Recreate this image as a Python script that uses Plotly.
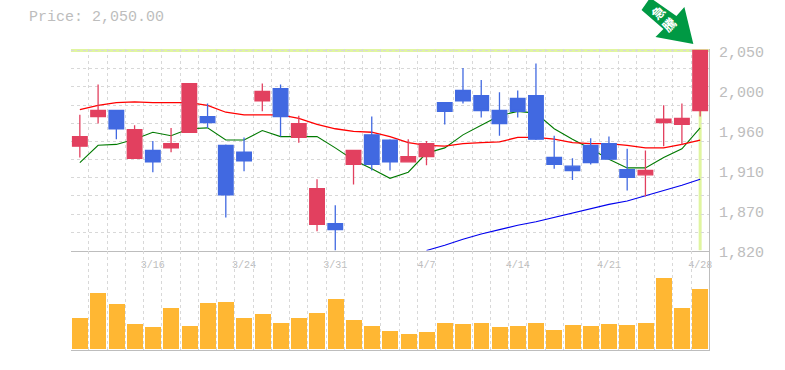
import plotly.graph_objects as go

price_label = "Price: 2,050.00"
x_idx = list(range(35))
x_tick_pos = [4, 9, 14, 19, 24, 29, 34]
x_tick_text = ["3/16", "3/24", "3/31", "4/7", "4/14", "4/21", "4/28"]
y_tick_pos = [1820, 1866, 1912, 1958, 2004, 2050]
y_tick_text = ["1,820", "1,870", "1,910", "1,960", "2,000", "2,050"]

high = [1976,2011,1982,1964,1946,1961,2012,1989,1942,1950,2012,2011,1975,1902,1872,1935,1974,1948,1948,1946,1990,2030,2016,2002,2004,2035,1952,1926,1949,1951,1937,1935,1987,1989,2050]
low = [1927,1966,1948,1926,1910,1933,1956,1961,1858,1911,1980,1951,1944,1842,1820,1896,1912,1912,1922,1918,1965,1989,1973,1952,1973,1947,1914,1901,1919,1925,1889,1882,1940,1942,1974]
open_ = [1940,1974,1981,1926,1935,1938,1956,1974,1941,1933,1992,2006,1950,1850,1851,1919,1953,1947,1922,1928,1990,2004,1998,1981,1995,1998,1927,1917,1941,1943,1913,1907,1967,1965,1981]
close = [1951,1981,1960,1959,1922,1943,2012,1967,1884,1923,2003,1974,1966,1891,1844,1935,1919,1922,1928,1943,1980,1992,1981,1966,1980,1948,1919,1912,1921,1925,1904,1912,1971,1972,2050]
ma_red = [1982,1987,1990,1991,1990,1990,1990,1987,1979,1976,1976,1976,1972,1965,1960,1957,1956,1951,1944,1941,1940,1943,1944,1945,1950,1950,1948,1944,1943,1943,1941,1938,1938,1942,1947]
ma_green = [1921,1941,1942,1948,1956,1952,1960,1961,1947,1947,1958,1951,1951,1951,1938,1924,1914,1903,1910,1932,1938,1953,1964,1975,1980,1978,1960,1948,1937,1925,1915,1915,1927,1937,1961]
ma_blue = [None]*19 + [1820,1826,1833,1839,1844,1849,1853,1858,1863,1868,1873,1877,1883,1889,1895,1902]
volume = [3100,5600,4500,2500,2200,4100,2300,4600,4700,3100,3500,2600,3100,3600,5000,2900,2300,1800,1500,1700,2600,2500,2600,2200,2300,2600,1900,2400,2300,2500,2400,2600,7100,4100,6000]

W, H = 785, 370
L, R, T, M, B = 71, 712, 48.5, 250.5, 350
GREY = "#bdbdbd"
GRID = "#d8d8d8"
DASH = "3px,3px"
FONT = "Liberation Mono"

fig = go.Figure()
for vals, col, w in [(ma_blue, "#0000ee", 1.1), (ma_green, "#007a00", 1.1), (ma_red, "#ff0000", 1.3)]:
    fig.add_trace(go.Scatter(x=x_idx, y=vals, mode="lines", line=dict(color=col, width=w),
                             xaxis="x", yaxis="y", hoverinfo="skip", showlegend=False))
fig.add_trace(go.Candlestick(x=x_idx, open=open_, high=high, low=low, close=close,
                             xaxis="x", yaxis="y3", whiskerwidth=0,
                             increasing=dict(line=dict(color="#e2405f", width=1.3), fillcolor="#e2405f"),
                             decreasing=dict(line=dict(color="#4169e1", width=1.3), fillcolor="#4169e1"),
                             showlegend=False))
fig.add_trace(go.Bar(x=x_idx, y=volume, marker=dict(color="#ffb733", line=dict(width=0)),
                     width=0.876, xaxis="x2", yaxis="y2", showlegend=False))

yr = [1820, 2052.3]
xr = [-0.5, 34.5]
minor_x = dict(tick0=-0.5, dtick=1, showgrid=True, gridcolor=GRID, griddash=DASH, gridwidth=1, ticks="")
fig.update_layout(
    width=W, height=H, margin=dict(l=0, r=0, t=0, b=0), boxgap=0.2, boxgroupgap=0.0,
    paper_bgcolor="white", plot_bgcolor="white", showlegend=False, bargap=0,
    xaxis=dict(domain=[L/W, R/W], range=xr, anchor="y", tickmode="array", tickvals=x_tick_pos,
               ticktext=x_tick_text, tickfont=dict(family=FONT, size=10, color=GREY), ticks="",
               ticklabelstandoff=4, showgrid=False, zeroline=False, minor=minor_x,
               showline=True, linecolor=GREY, linewidth=1, rangeslider=dict(visible=False)),
    xaxis2=dict(domain=[L/W, R/W], range=xr, anchor="y2", showticklabels=False, ticks="",
                tickmode="array", tickvals=[], showgrid=False, zeroline=False, minor=minor_x,
                showline=True, linecolor=GREY, linewidth=1),
    yaxis=dict(domain=[1-M/H, 1-T/H], range=yr, anchor="x", showticklabels=False, ticks="",
               tickmode="array", tickvals=[], zeroline=False, showgrid=False, fixedrange=True,
               minor=dict(tick0=1820, dtick=230/11, showgrid=True, gridcolor=GRID, griddash=DASH, gridwidth=1, ticks=""),
               side="right", showline=True, linecolor=GREY, linewidth=1),
    yaxis3=dict(overlaying="y", range=yr, anchor="x", showticklabels=False, ticks="",
                showgrid=False, zeroline=False, side="right"),
    yaxis2=dict(domain=[1-B/H, 1-M/H], range=[-200, 9800], anchor="x2", showticklabels=False, ticks="",
                showgrid=False, zeroline=False, side="right", showline=True, linecolor=GREY, linewidth=1),
    shapes=[
        dict(type="line", xref="x", yref="y", x0=-0.5, x1=34.5, y0=2050, y1=2050, layer="below",
             line=dict(color="#e0f5a0", width=3)),
        dict(type="line", xref="x", yref="y", x0=34, x1=34, y0=1820, y1=2050, layer="below",
             line=dict(color="#e0f5a0", width=3)),
        dict(type="path", xref="paper", yref="paper", fillcolor="#009944", line=dict(width=0),
             path="M {} {} L {} {} L {} {} L {} {} L {} {} L {} {} L {} {} L {} {} Z".format(
                 *sum([[x/W, 1-y/H] for x, y in [(644,10),(651,0),(656,0),(679,16),(687,7),(696,44),(658,37),(666,29)]], []))),
    ],
)
anns = [dict(xref="paper", yref="paper", x=27/W, y=1-18/H, xanchor="left", yanchor="middle", showarrow=False,
             text=price_label, font=dict(family=FONT, size=15, color=GREY))]
for v, t in zip(y_tick_pos, y_tick_text):
    anns.append(dict(xref="paper", yref="y", x=720/W, y=v, yshift=-3, xanchor="left", yanchor="middle",
                     showarrow=False, text=t, font=dict(family=FONT, size=15, color=GREY)))
for ch, (px, py) in zip("急騰", [(660, 12), (671, 24)]):
    anns.append(dict(xref="paper", yref="paper", x=px/W, y=1-py/H, xanchor="center", yanchor="middle",
                     showarrow=False, text=ch, textangle=-45,
                     font=dict(family="Noto Sans CJK JP", size=13, color="white", weight="bold")))
fig.update_layout(annotations=anns)

fig.write_html("out.html", config=dict(displayModeBar=False),
               post_script="document.body.style.margin='0';")
